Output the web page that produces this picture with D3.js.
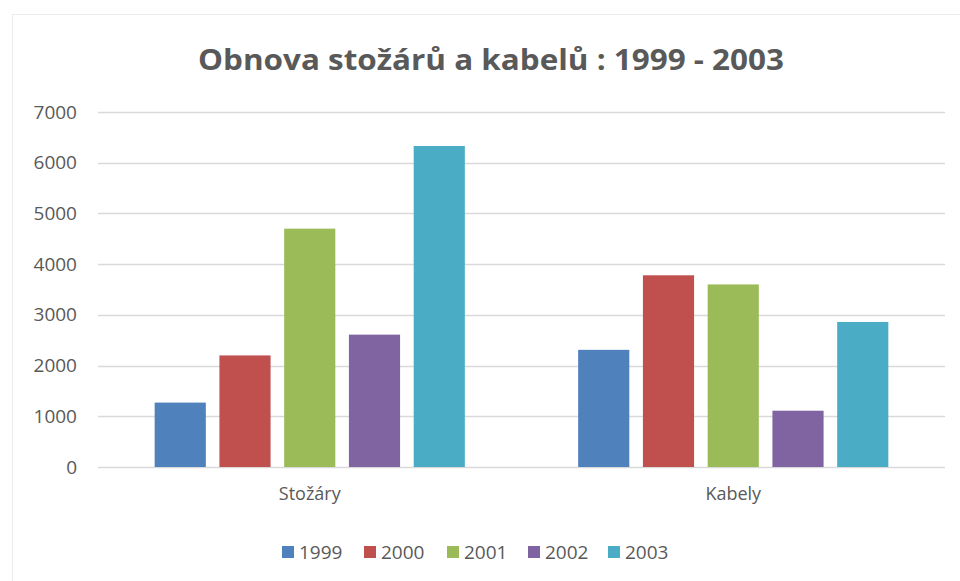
<!DOCTYPE html>
<meta charset="utf-8">
<html>
<head>
	<script src="https://d3js.org/d3.v7.min.js"></script>
	<style>
		body { margin: 0; background: #fff; }
		text { font-family: "Open Sans", "Noto Sans", sans-serif; fill: #595959; }
	</style>
</head>
<body>

<div id="chart"></div>

<script>

// data
var categories = ["Stožáry", "Kabely"];
var years = ["1999", "2000", "2001", "2002", "2003"];
var stozary = [1270, 2200, 4700, 2610, 6330];
var kabely = [2310, 3780, 3600, 1110, 2860];
var yTicks = [0, 1000, 2000, 3000, 4000, 5000, 6000, 7000];
var colors = ["#4F81BD", "#C0504D", "#9BBB59", "#8064A2", "#4BACC6"];

var seriesByCategory = [stozary, kabely];

var W = 960, H = 581;
var margin = {top: 112, right: 15, bottom: 114, left: 98};
var width = W - margin.left - margin.right;
var height = H - margin.top - margin.bottom;

var svg = d3.select("#chart")
  .append("svg")
    .attr("width", W)
    .attr("height", H);

// faint chart border
svg.append("rect")
  .attr("x", 12.5).attr("y", 14.5)
  .attr("width", W).attr("height", H)
  .attr("fill", "none")
  .attr("stroke", "#ececec");

// title
svg.append("text")
  .attr("x", 491)
  .attr("y", 70)
  .attr("text-anchor", "middle")
  .style("font-size", "29px")
  .style("font-weight", "bold")
  .attr("textLength", 586)
  .attr("lengthAdjust", "spacingAndGlyphs")
  .text("Obnova stožárů a kabelů : 1999 - 2003");

var g = svg.append("g")
  .attr("transform", "translate(" + margin.left + "," + margin.top + ")");

var x0 = d3.scaleBand()
  .domain(categories)
  .range([0, width])
  .paddingInner(0)
  .paddingOuter(0);

var x1 = d3.scaleBand()
  .domain(years)
  .range([0, x0.bandwidth()])
  .paddingInner(0.21)
  .paddingOuter(0.875);

var y = d3.scaleLinear()
  .domain([0, 7000])
  .range([height, 0]);

// gridlines
g.append("g")
  .selectAll("line")
  .data(yTicks)
  .enter()
  .append("line")
    .attr("x1", 0)
    .attr("x2", width)
    .attr("y1", function(d) { return Math.round(y(d)) + 0.5; })
    .attr("y2", function(d) { return Math.round(y(d)) + 0.5; })
    .attr("stroke", "#d9d9d9")
    .attr("stroke-width", 1.5);

// y axis labels
var yAxis = g.append("g")
  .call(d3.axisLeft(y).tickValues(yTicks).tickFormat(d3.format("d")).tickSize(0).tickPadding(21));
yAxis.select(".domain").remove();
yAxis.selectAll("text")
  .style("font-size", "19px")
  .attr("fill", "#595959");

// bars
var groups = g.selectAll("g.cat")
  .data(categories)
  .enter()
  .append("g")
    .attr("class", "cat")
    .attr("transform", function(d) { return "translate(" + x0(d) + ",0)"; });

groups.selectAll("rect")
  .data(function(d, i) {
    return years.map(function(yr, j) { return {year: yr, value: seriesByCategory[i][j], c: colors[j]}; });
  })
  .enter()
  .append("rect")
    .attr("x", function(d) { return x1(d.year); })
    .attr("y", function(d) { return y(d.value); })
    .attr("width", x1.bandwidth())
    .attr("height", function(d) { return height - y(d.value); })
    .attr("fill", function(d) { return d.c; });

// x axis labels
var xAxis = g.append("g")
  .attr("transform", "translate(0," + height + ")")
  .call(d3.axisBottom(x0).tickSize(0).tickPadding(20));
xAxis.select(".domain").remove();
xAxis.selectAll("text")
  .style("font-size", "18px")
  .attr("fill", "#595959");

// legend
var legendX = [282, 364, 447, 528, 608];
var legend = svg.append("g")
  .selectAll("g")
  .data(years)
  .enter()
  .append("g")
    .attr("transform", function(d, i) { return "translate(" + legendX[i] + ",552)"; });

legend.append("rect")
  .attr("x", 0).attr("y", -6)
  .attr("width", 12).attr("height", 12)
  .attr("fill", function(d, i) { return colors[i]; });

legend.append("text")
  .attr("x", 17)
  .attr("y", 0)
  .attr("dy", "0.35em")
  .style("font-size", "19px")
  .text(function(d) { return d; });

</script>

</body>
</html>
